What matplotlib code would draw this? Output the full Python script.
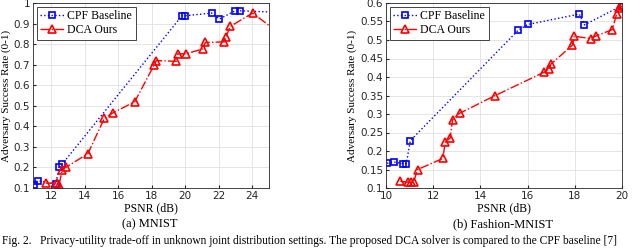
import matplotlib
matplotlib.use('Agg')
import matplotlib.pyplot as plt

# (a) MNIST
mn_cpf_x = [10.97, 11.17, 12.26, 12.46, 12.65, 19.8, 20.0, 21.58, 22.04, 22.97, 23.27, 25.5]
mn_cpf_y = [0.116, 0.136, 0.120, 0.200, 0.217, 0.938, 0.938, 0.951, 0.922, 0.962, 0.962, 0.955]
mn_dca_x = [11.66, 12.36, 12.46, 12.65, 12.85, 14.18, 15.17, 15.67, 16.98, 18.15, 18.27, 19.46,
            19.56, 20.06, 21.05, 21.19, 22.34, 22.44, 22.68, 24.02, 25.5]
mn_dca_y = [0.124, 0.123, 0.116, 0.190, 0.200, 0.267, 0.440, 0.465, 0.520, 0.700, 0.720, 0.716,
            0.753, 0.753, 0.777, 0.808, 0.811, 0.837, 0.886, 0.951, 0.860]

# (b) Fashion-MNIST
fm_cpf_x = [10.04, 10.35, 10.72, 10.86, 11.03, 15.61, 16.01, 18.19, 18.41, 20.0]
fm_cpf_y = [0.167, 0.170, 0.166, 0.166, 0.228, 0.527, 0.542, 0.570, 0.541, 0.593]
fm_dca_x = [10.61, 10.93, 11.06, 11.17, 11.34, 12.41, 12.51, 12.72, 12.82, 13.12, 14.63, 16.7,
            16.92, 16.99, 17.9, 17.98, 18.67, 18.9, 19.59, 19.77, 19.87, 20.0]
fm_dca_y = [0.118, 0.116, 0.116, 0.116, 0.150, 0.180, 0.224, 0.235, 0.285, 0.302, 0.350, 0.413,
            0.422, 0.435, 0.486, 0.510, 0.504, 0.511, 0.528, 0.570, 0.587, 0.591]

serif = 'Liberation Serif'
blue = '#0000ff'
red = '#ff0000'

fig = plt.figure(figsize=(6.4, 2.48), dpi=100)
ax1 = fig.add_axes([33/640, 1-188/248, 236/640, 185/248])
ax2 = fig.add_axes([386/640, 1-188/248, 236/640, 185/248])

def draw(ax, cx, cy, dx, dy, xlim, ylim, xt, yt, ylabels):
    ax.plot(cx, cy, ':', color=blue, marker='s', ms=4.5, mfc='none', mew=1.2, lw=1.0,
            label='CPF Baseline')
    ax.plot(dx, dy, '-.', color=red, marker='^', ms=5.5, mfc='none', mew=1.2, lw=1.0,
            label='DCA Ours')
    ax.set_xlim(xlim)
    ax.set_ylim(ylim)
    ax.set_xticks(xt)
    ax.set_yticks(yt)
    ax.set_yticklabels(ylabels)
    ax.tick_params(labelsize=7.5, length=2, direction='in', colors='#262626', pad=2)
    ax.grid(True, color='#e0e0e0', lw=0.6)
    for s in ax.spines.values():
        s.set_color('#262626')
        s.set_linewidth(0.6)
    ax.set_xlabel('PSNR (dB)', fontsize=8.5, family=serif, labelpad=1)
    ax.set_ylabel('Adversary Success Rate (0-1)', fontsize=8, family=serif, labelpad=2)
    leg = ax.legend(loc='upper left', prop={'family': serif, 'size': 8.5}, fancybox=False,
                    handlelength=2.0, borderpad=0.3, labelspacing=0.2, handletextpad=0.3,
                    borderaxespad=0.3, framealpha=1)
    leg.get_frame().set_edgecolor('#262626')
    leg.get_frame().set_linewidth(0.6)

draw(ax1, mn_cpf_x, mn_cpf_y, mn_dca_x, mn_dca_y, (10.9, 25), (0.1, 1.0),
     [12, 14, 16, 18, 20, 22, 24],
     [0.1, 0.2, 0.3, 0.4, 0.5, 0.6, 0.7, 0.8, 0.9, 1.0],
     ['0.1', '0.2', '0.3', '0.4', '0.5', '0.6', '0.7', '0.8', '0.9', '1'])
draw(ax2, fm_cpf_x, fm_cpf_y, fm_dca_x, fm_dca_y, (10, 20), (0.1, 0.6),
     [10, 12, 14, 16, 18, 20],
     [0.1, 0.15, 0.2, 0.25, 0.3, 0.35, 0.4, 0.45, 0.5, 0.55, 0.6],
     ['0.1', '0.15', '0.2', '0.25', '0.3', '0.35', '0.4', '0.45', '0.5', '0.55', '0.6'])

fig.text(150/640, 1-224/248, '(a) MNIST', ha='center', va='center', fontsize=9, family=serif)
fig.text(503/640, 1-224/248, '(b) Fashion-MNIST', ha='center', va='center', fontsize=9, family=serif)
fig.text(2/640, 1/248, 'Fig. 2.   Privacy-utility trade-off in unknown joint distribution settings. '
         'The proposed DCA solver is compared to the CPF baseline [7]',
         ha='left', va='bottom', fontsize=8.3, family=serif)

plt.savefig('out.png', dpi=100)
